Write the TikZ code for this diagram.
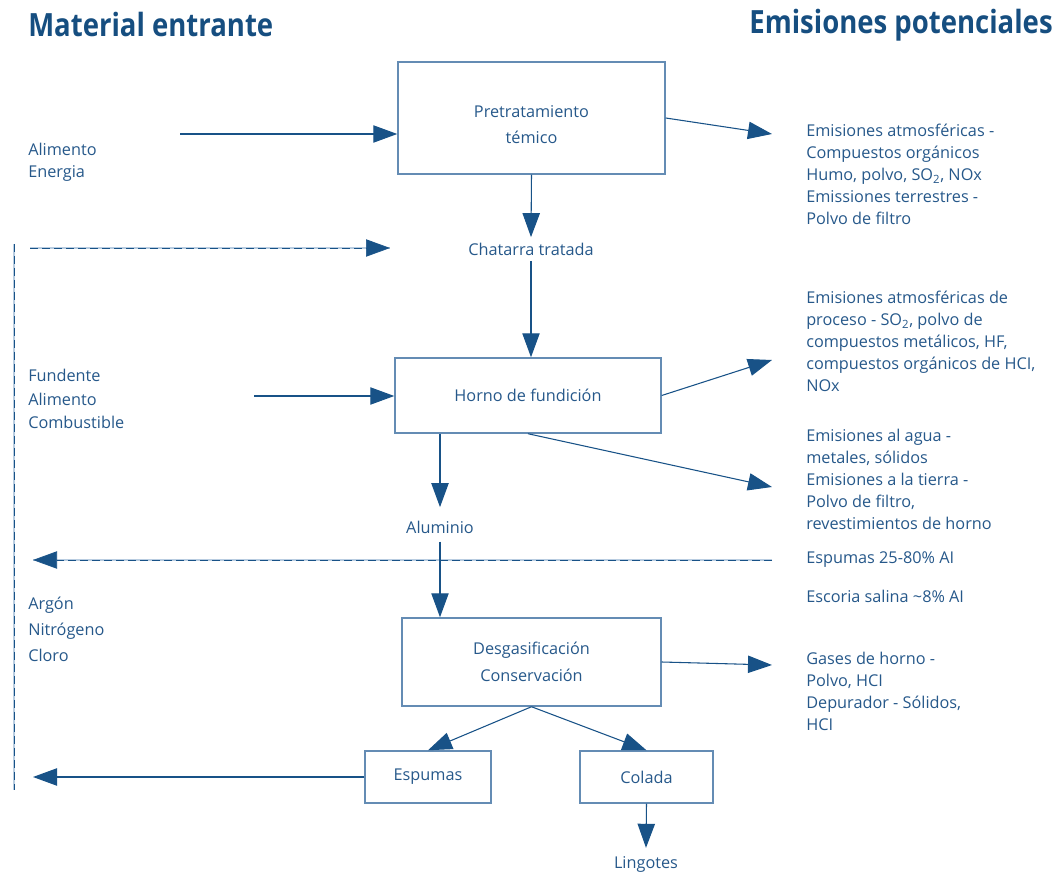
\documentclass[tikz,border=0pt]{standalone}
\usepackage{fontspec}
\setmainfont{Open Sans}
\newfontfamily\headfont[FakeStretch=0.86]{Open Sans}
\usetikzlibrary{arrows.meta}

\definecolor{headblue}{RGB}{22,78,128}
\definecolor{textblue}{RGB}{38,88,138}
\definecolor{arrowblue}{RGB}{24,82,135}
\definecolor{boxblue}{RGB}{100,140,180}
\definecolor{paleblue}{RGB}{185,205,225}

\tikzset{
  stepbox/.style={draw=boxblue, line width=1.1pt, rectangle, inner sep=0pt,
    text=textblue, align=center, font=\fontsize{12.2}{20}\selectfont},
  label/.style={text=textblue, inner sep=0pt, align=left,
    font=\fontsize{12.2}{16.5}\selectfont},
  clabel/.style={text=textblue, inner sep=0pt, align=center,
    font=\fontsize{12.2}{16.5}\selectfont},
  head/.style={text=headblue, inner sep=0pt, font=\headfont\bfseries\fontsize{24}{28}\selectfont},
  tip/.style={-{Triangle[length=18pt,width=13pt]}},
  flow/.style={draw=arrowblue, line width=0.8pt, tip},
  recycle/.style={draw=arrowblue, line width=0.5pt, dash pattern=on 6pt off 3pt},
  recyclebg/.style={draw=paleblue, line width=1.4pt},
}

\begin{document}
\begin{tikzpicture}[x=0.75pt,y=-0.75pt]
\useasboundingbox (0,0) rectangle (1058,873);

% headings
\node[head, anchor=west] (hin) at (28,25) {Material entrante};
\node[head, anchor=east] (hout) at (1053,25) {Emisiones potenciales};

% process boxes
\node[stepbox, minimum width=200.25pt, minimum height=84pt] (pre) at (531.5,118) {};
\node[stepbox, draw=none] (pretext) at (531.5,124.5) {Pretratamiento\\témico};
\node[stepbox, minimum width=199.5pt, minimum height=56.25pt] (horno) at (528,395.5)
  {Horno de fundición};
\node[stepbox, minimum width=194.25pt, minimum height=66pt] (desg) at (531.5,662)
  {Desgasificación\\Conservación};
\node[stepbox, minimum width=94.5pt, minimum height=39pt] (esp) at (428,777) {Espumas};
\node[stepbox, minimum width=99.75pt, minimum height=39pt] (col) at (646.5,777) {Colada};

% intermediate products
\node[clabel] (chat) at (531,249) {Chatarra tratada};
\node[clabel] (alu) at (440,527) {Aluminio};
\node[clabel] (ling) at (646,864) {Lingotes};

% incoming material
\node[label, anchor=north west] (in1) at (28,143) {Alimento\\Energia};
\node[label, anchor=north west, font=\fontsize{12.2}{17.6}\selectfont] (in2) at (28,369)
  {Fundente\\Alimento\\Combustible};
\node[label, anchor=north west, font=\fontsize{12.2}{19.5}\selectfont] (in3) at (28,597)
  {Argón\\Nitrógeno\\Cloro};

% emissions
\node[label, anchor=north west] (out1) at (806,124)
  {Emisiones atmosféricas -\\Compuestos orgánicos\\Humo, polvo, SO\textsubscript{2}, NOx\\Emissiones terrestres -\\Polvo de filtro};
\node[label, anchor=north west] (out2) at (806,291)
  {Emisiones atmosféricas de\\proceso - SO\textsubscript{2}, polvo de\\compuestos metálicos, HF,\\compuestos orgánicos de HCI,\\NOx};
\node[label, anchor=north west] (out3) at (806,429)
  {Emisiones al agua -\\metales, sólidos\\Emisiones a la tierra -\\Polvo de filtro,\\revestimientos de horno};
\node[label, anchor=north west] (out4) at (806,551) {Espumas 25-80\% AI};
\node[label, anchor=north west] (out5) at (806,590) {Escoria salina \textasciitilde8\% AI};
\node[label, anchor=north west] (out6) at (806,652)
  {Gases de horno -\\Polvo, HCI\\Depurador - Sólidos,\\HCI};

% free ends of connectors
\coordinate (a1) at (180,134);
\coordinate (a2) at (254,396);
\coordinate (e1) at (772,134);
\coordinate (e2) at (772,360);
\coordinate (e3) at (772,487);
\coordinate (e4) at (772,665);
\coordinate (back) at (33,777);
\coordinate (rtop) at (30,248);
\coordinate (rtopend) at (390,248);
\coordinate (rmid) at (772,560);
\coordinate (rmidend) at (33,560);
\coordinate (vtop) at (14,244);
\coordinate (vbot) at (14,790);

% recycle lines
\draw[recyclebg] (vtop) -- (vbot);
\draw[recycle] (vtop) -- (vbot);
\draw[recyclebg] (rtop) -- (rtopend);
\draw[recycle, tip] (rtop) -- (rtopend);
\draw[recyclebg] (rmid) -- (rmidend);
\draw[recycle, tip] (rmid) -- (rmidend);

% main flow
\draw[flow] (a1) -- (a1 -| pre.west);
\draw[flow] (pre.east) -- (e1);
\draw[flow] (pre.south) -- ([yshift=4pt]chat.north);
\draw[flow] ([yshift=-4pt]chat.south) -- (chat.south |- horno.north);
\draw[flow] (a2) -- (a2 -| horno.west);
\draw[flow] (horno.east) -- (e2);
\draw[flow] (horno.south) -- (e3);
\draw[flow] (horno.south -| alu) -- ([yshift=10pt]alu.north);
\draw[flow] ([yshift=-6pt]alu.south) -- (alu.south |- desg.north);
\draw[flow] (desg.east) -- (e4);
\draw[flow] (desg.south) -- (esp.north);
\draw[flow] (desg.south) -- (col.north);
\draw[flow] (esp.west) -- (back);
\draw[flow] (col.south) -- ([yshift=6pt]ling.north);
\end{tikzpicture}
\end{document}
